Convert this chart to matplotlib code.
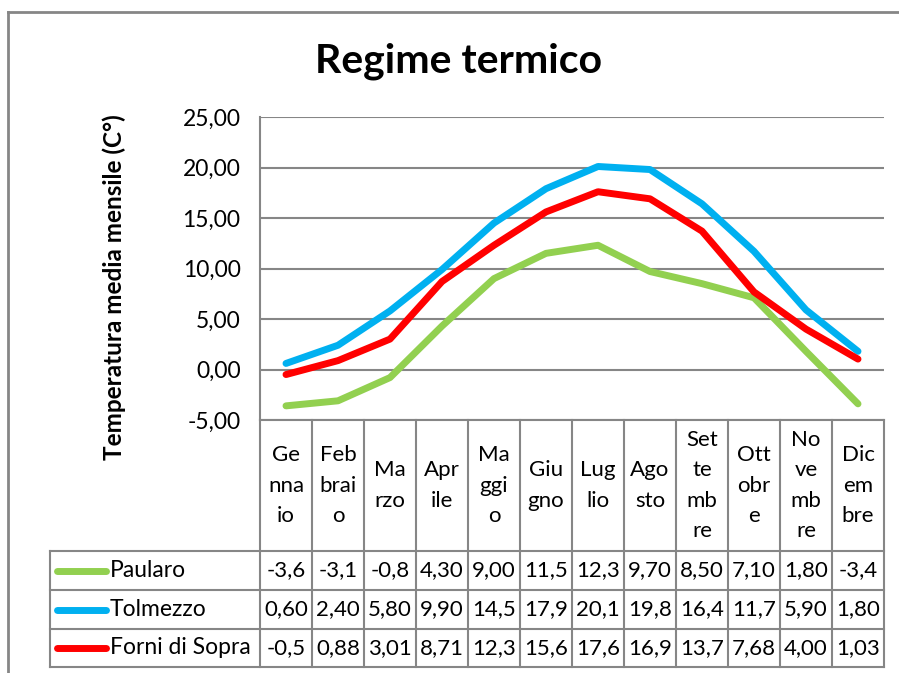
import matplotlib
matplotlib.use("Agg")
from matplotlib import pyplot as plt
from matplotlib.transforms import blended_transform_factory
import numpy as np

plt.rcParams['font.family'] = ['Lato', 'DejaVu Sans']

# dati
mesi = ["Gennaio", "Febbraio", "Marzo", "Aprile", "Maggio", "Giugno",
        "Luglio", "Agosto", "Settembre", "Ottobre", "Novembre", "Dicembre"]
etichette_mesi = ["Ge\nnna\nio", "Feb\nbrai\no", "Ma\nrzo", "Apr\nile", "Ma\nggi\no", "Giu\ngno",
                  "Lug\nlio", "Ago\nsto", "Set\nte\nmb\nre", "Ott\nobr\ne", "No\nve\nmb\nre", "Dic\nem\nbre"]
stazioni = ["Paularo", "Tolmezzo", "Forni di Sopra"]
paularo = [-3.6, -3.1, -0.8, 4.30, 9.00, 11.5, 12.3, 9.70, 8.50, 7.10, 1.80, -3.4]
tolmezzo = [0.60, 2.40, 5.80, 9.90, 14.5, 17.9, 20.1, 19.8, 16.4, 11.7, 5.90, 1.80]
forni = [-0.5, 0.88, 3.01, 8.71, 12.3, 15.6, 17.6, 16.9, 13.7, 7.68, 4.00, 1.03]
colori = ["#92D050", "#00B0F0", "#FF0000"]
yticks = [-5, 0, 5, 10, 15, 20, 25]

W, H = 899, 673
grigio = "#868686"


def fmt(v):
    # come la tabella di Excel: 4 caratteri al massimo
    return ("%.2f" % v).replace(".", ",")[:4]


fig = plt.figure(figsize=(W / 100, H / 100), dpi=100)

# sfondo in pixel per bordi, titolo e tabella
bg = fig.add_axes([0, 0, 1, 1])
bg.set_xlim(0, W)
bg.set_ylim(H, 0)
bg.axis("off")

left, right, top, bottom = 260, 884, 117, 420
ax = fig.add_axes([left / W, 1 - bottom / H, (right - left) / W, (bottom - top) / H])
ax.set_xlim(-0.5, len(mesi) - 0.5)
ax.set_ylim(-5, 25)
ax.set_yticks(yticks)
ax.set_yticklabels([("%.2f" % v).replace(".", ",") for v in yticks], fontsize=16.5)
ax.tick_params(axis="y", length=0, pad=14)
ax.set_xticks([])
for s in ["top", "right", "bottom"]:
    ax.spines[s].set_visible(False)
ax.spines["left"].set_color(grigio)
ax.spines["left"].set_linewidth(1.5)
ax.grid(axis="y", color=grigio, linewidth=1.5)
ax.set_axisbelow(True)
ax.patch.set_alpha(0)

x = np.arange(len(mesi))
for vals, col in zip([paularo, tolmezzo, forni], colori):
    ax.plot(x, vals, color=col, linewidth=5, solid_capstyle="round",
            solid_joinstyle="round", clip_on=False)

# titolo e asse y
bg.text(459, 61, "Regime termico", ha="center", va="center", fontsize=29.5, fontweight="bold")
bg.text(114, 287, "Temperatura media mensile (C°)", ha="center", va="center",
        rotation=90, fontsize=17.5, fontweight="bold")

# bordo esterno
bg.plot([8, 8], [12, H], color=grigio, linewidth=2)
bg.plot([8, W], [12, 12], color=grigio, linewidth=2)

# tabella dati
tr = blended_transform_factory(ax.transData, bg.transData)
righe = [551, 590, 629, 667]
lw = 1.5
bg.plot([left, right], [bottom, bottom], color=grigio, linewidth=lw)
for i in range(len(mesi) + 1):
    bg.plot([i - 0.5, i - 0.5], [bottom, righe[-1]], color=grigio, linewidth=lw, transform=tr)
for yr in righe:
    bg.plot([50, right], [yr, yr], color=grigio, linewidth=lw)
bg.plot([50, 50], [righe[0], righe[-1]], color=grigio, linewidth=lw)

for i, lab in enumerate(etichette_mesi):
    bg.text(i, (bottom + righe[0]) / 2, lab, ha="center", va="center", fontsize=16,
            linespacing=1.65, transform=tr)

for r, (nome, vals, col) in enumerate(zip(stazioni, [paularo, tolmezzo, forni], colori)):
    yc = (righe[r] + righe[r + 1]) / 2
    bg.plot([57, 106], [yc, yc], color=col, linewidth=5, solid_capstyle="round")
    bg.text(110, yc, nome, ha="left", va="center", fontsize=16.5)
    for i, v in enumerate(vals):
        bg.text(i, yc, fmt(v), ha="center", va="center", fontsize=16, transform=tr)

fig.savefig("out.png", dpi=100)
